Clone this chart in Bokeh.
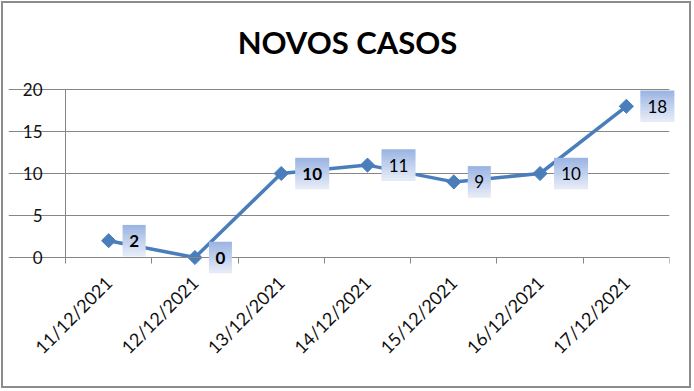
import math
from bokeh.plotting import figure
from bokeh.models import (FixedTicker, CustomJSTickFormatter, Label, ColumnDataSource,
                          LabelSet, Range1d)
from bokeh.core.properties import value
from bokeh.embed import file_html
from bokeh.resources import INLINE

# ---- data ----
title_text = "NOVOS CASOS"
dates = ["11/12/2021", "12/12/2021", "13/12/2021", "14/12/2021",
         "15/12/2021", "16/12/2021", "17/12/2021"]
cases = [2, 0, 10, 11, 9, 10, 18]
label_weights = ["bold", "bold", "bold", "normal", "normal", "normal", "normal"]
y_ticks = [0, 5, 10, 15, 20]

FONT = "Lato"
LINE = "#4a7ebb"
GRID = "#868686"

PLOT_W = 604       # width of the category area
EXTRA_W = 57       # room left of the value axis for its tick labels
PLOT_H = 168       # height of the 0..20 value area
EXTRA_H = 123      # room under the zero line for the rotated date labels
EXTRA_TOP = 81     # room above the top gridline for the title
YMAX = 20
NCAT = len(dates)
px_x = PLOT_W / NCAT
px_y = PLOT_H / YMAX
XMIN = -EXTRA_W / px_x
YMIN = -EXTRA_H / px_y
YTOP = YMAX + EXTRA_TOP / px_y

p = figure(frame_width=PLOT_W + EXTRA_W, frame_height=PLOT_H + EXTRA_H + EXTRA_TOP,
           output_backend="svg", toolbar_location=None,
           x_range=Range1d(XMIN, NCAT), y_range=Range1d(YMIN, YTOP),
           min_border_left=5, min_border_top=5, min_border_right=20,
           min_border_bottom=6)
p.styles = {"border": "2px solid #8c8c8c", "margin": "1px"}
p.outline_line_color = None
p.background_fill_color = "white"
p.border_fill_color = "white"

# chart title, centred on the whole chart, above the top gridline
title_x = XMIN + (PLOT_W + EXTRA_W + 17) / 2 / px_x
title_y = YMAX + 48 / px_y
p.add_layout(Label(x=title_x, y=title_y, text=title_text, text_align="center",
                   text_baseline="middle", text_font=FONT, text_font_size="31px",
                   text_font_style="bold", text_color="black"))

xs = [i + 0.5 for i in range(NCAT)]

# category axis, drawn on the zero line
p.xaxis.fixed_location = 0
p.xaxis.bounds = (0, NCAT)
p.xaxis.ticker = FixedTicker(ticks=xs, minor_ticks=list(range(NCAT + 1)))
p.xaxis.formatter = CustomJSTickFormatter(args=dict(labels=dates),
                                          code="return labels[Math.floor(tick)];")
p.xaxis.major_tick_in = 0
p.xaxis.major_tick_out = 0
p.xaxis.minor_tick_in = 0
p.xaxis.minor_tick_out = 6
p.xaxis.minor_tick_line_color = GRID
p.xaxis.axis_line_color = GRID
p.xaxis.major_label_orientation = math.pi / 4
p.xaxis.major_label_text_font = FONT
p.xaxis.major_label_text_font_size = "18px"
p.xaxis.major_label_text_color = "#111111"
p.xaxis.major_label_standoff = 16

# value axis, drawn on the first category boundary
p.yaxis.fixed_location = 0
p.yaxis.ticker = FixedTicker(ticks=y_ticks, minor_ticks=[])
p.yaxis.bounds = (0, YMAX)
p.yaxis.major_tick_in = 0
p.yaxis.major_tick_out = 6
p.yaxis.major_tick_line_color = GRID
p.yaxis.axis_line_color = GRID
p.yaxis.major_label_text_font = FONT
p.yaxis.major_label_text_font_size = "17px"
p.yaxis.major_label_text_color = "#111111"
p.yaxis.major_label_standoff = 17

p.xgrid.grid_line_color = None
p.ygrid.grid_line_color = GRID
p.ygrid.grid_line_width = 1
p.ygrid.bounds = (0, NCAT)

# series
p.line(xs, cases, line_color=LINE, line_width=3.5)
p.scatter(xs, cases, marker="square", angle=math.pi / 4, size=10,
          fill_color=LINE, line_color=LINE)

# data label boxes with a vertical gradient
BOX_H = 31
N = 12
top = (157, 181, 227)
bot = (228, 235, 247)
for k in range(N):
    t = k / (N - 1)
    col = "#%02x%02x%02x" % tuple(int(round(top[j] + (bot[j] - top[j]) * t)) for j in range(3))
    bx, by, bw = [], [], []
    for x, v in zip(xs, cases):
        w = 12 + 11 * len(str(v))
        bx.append(x + (14 + w / 2) / px_x)
        by.append(v + (BOX_H / 2 - (k + 0.5) * BOX_H / N) / px_y)
        bw.append(w)
    p.rect(bx, by, width=bw, height=BOX_H / N + 0.6, width_units="screen",
           height_units="screen", fill_color=col, line_color=None, level="annotation")

lx = [x + (14 + (12 + 11 * len(str(v))) / 2) / px_x for x, v in zip(xs, cases)]
src = ColumnDataSource(dict(x=lx, y=cases, t=[str(v) for v in cases], fs=label_weights))
p.add_layout(LabelSet(x="x", y="y", text="t", source=src, text_align="center",
                      text_baseline="middle", text_font=value(FONT), text_font_size="17px",
                      text_font_style="fs", text_color="black"))

open("out.html", "w").write(file_html(p, INLINE))
